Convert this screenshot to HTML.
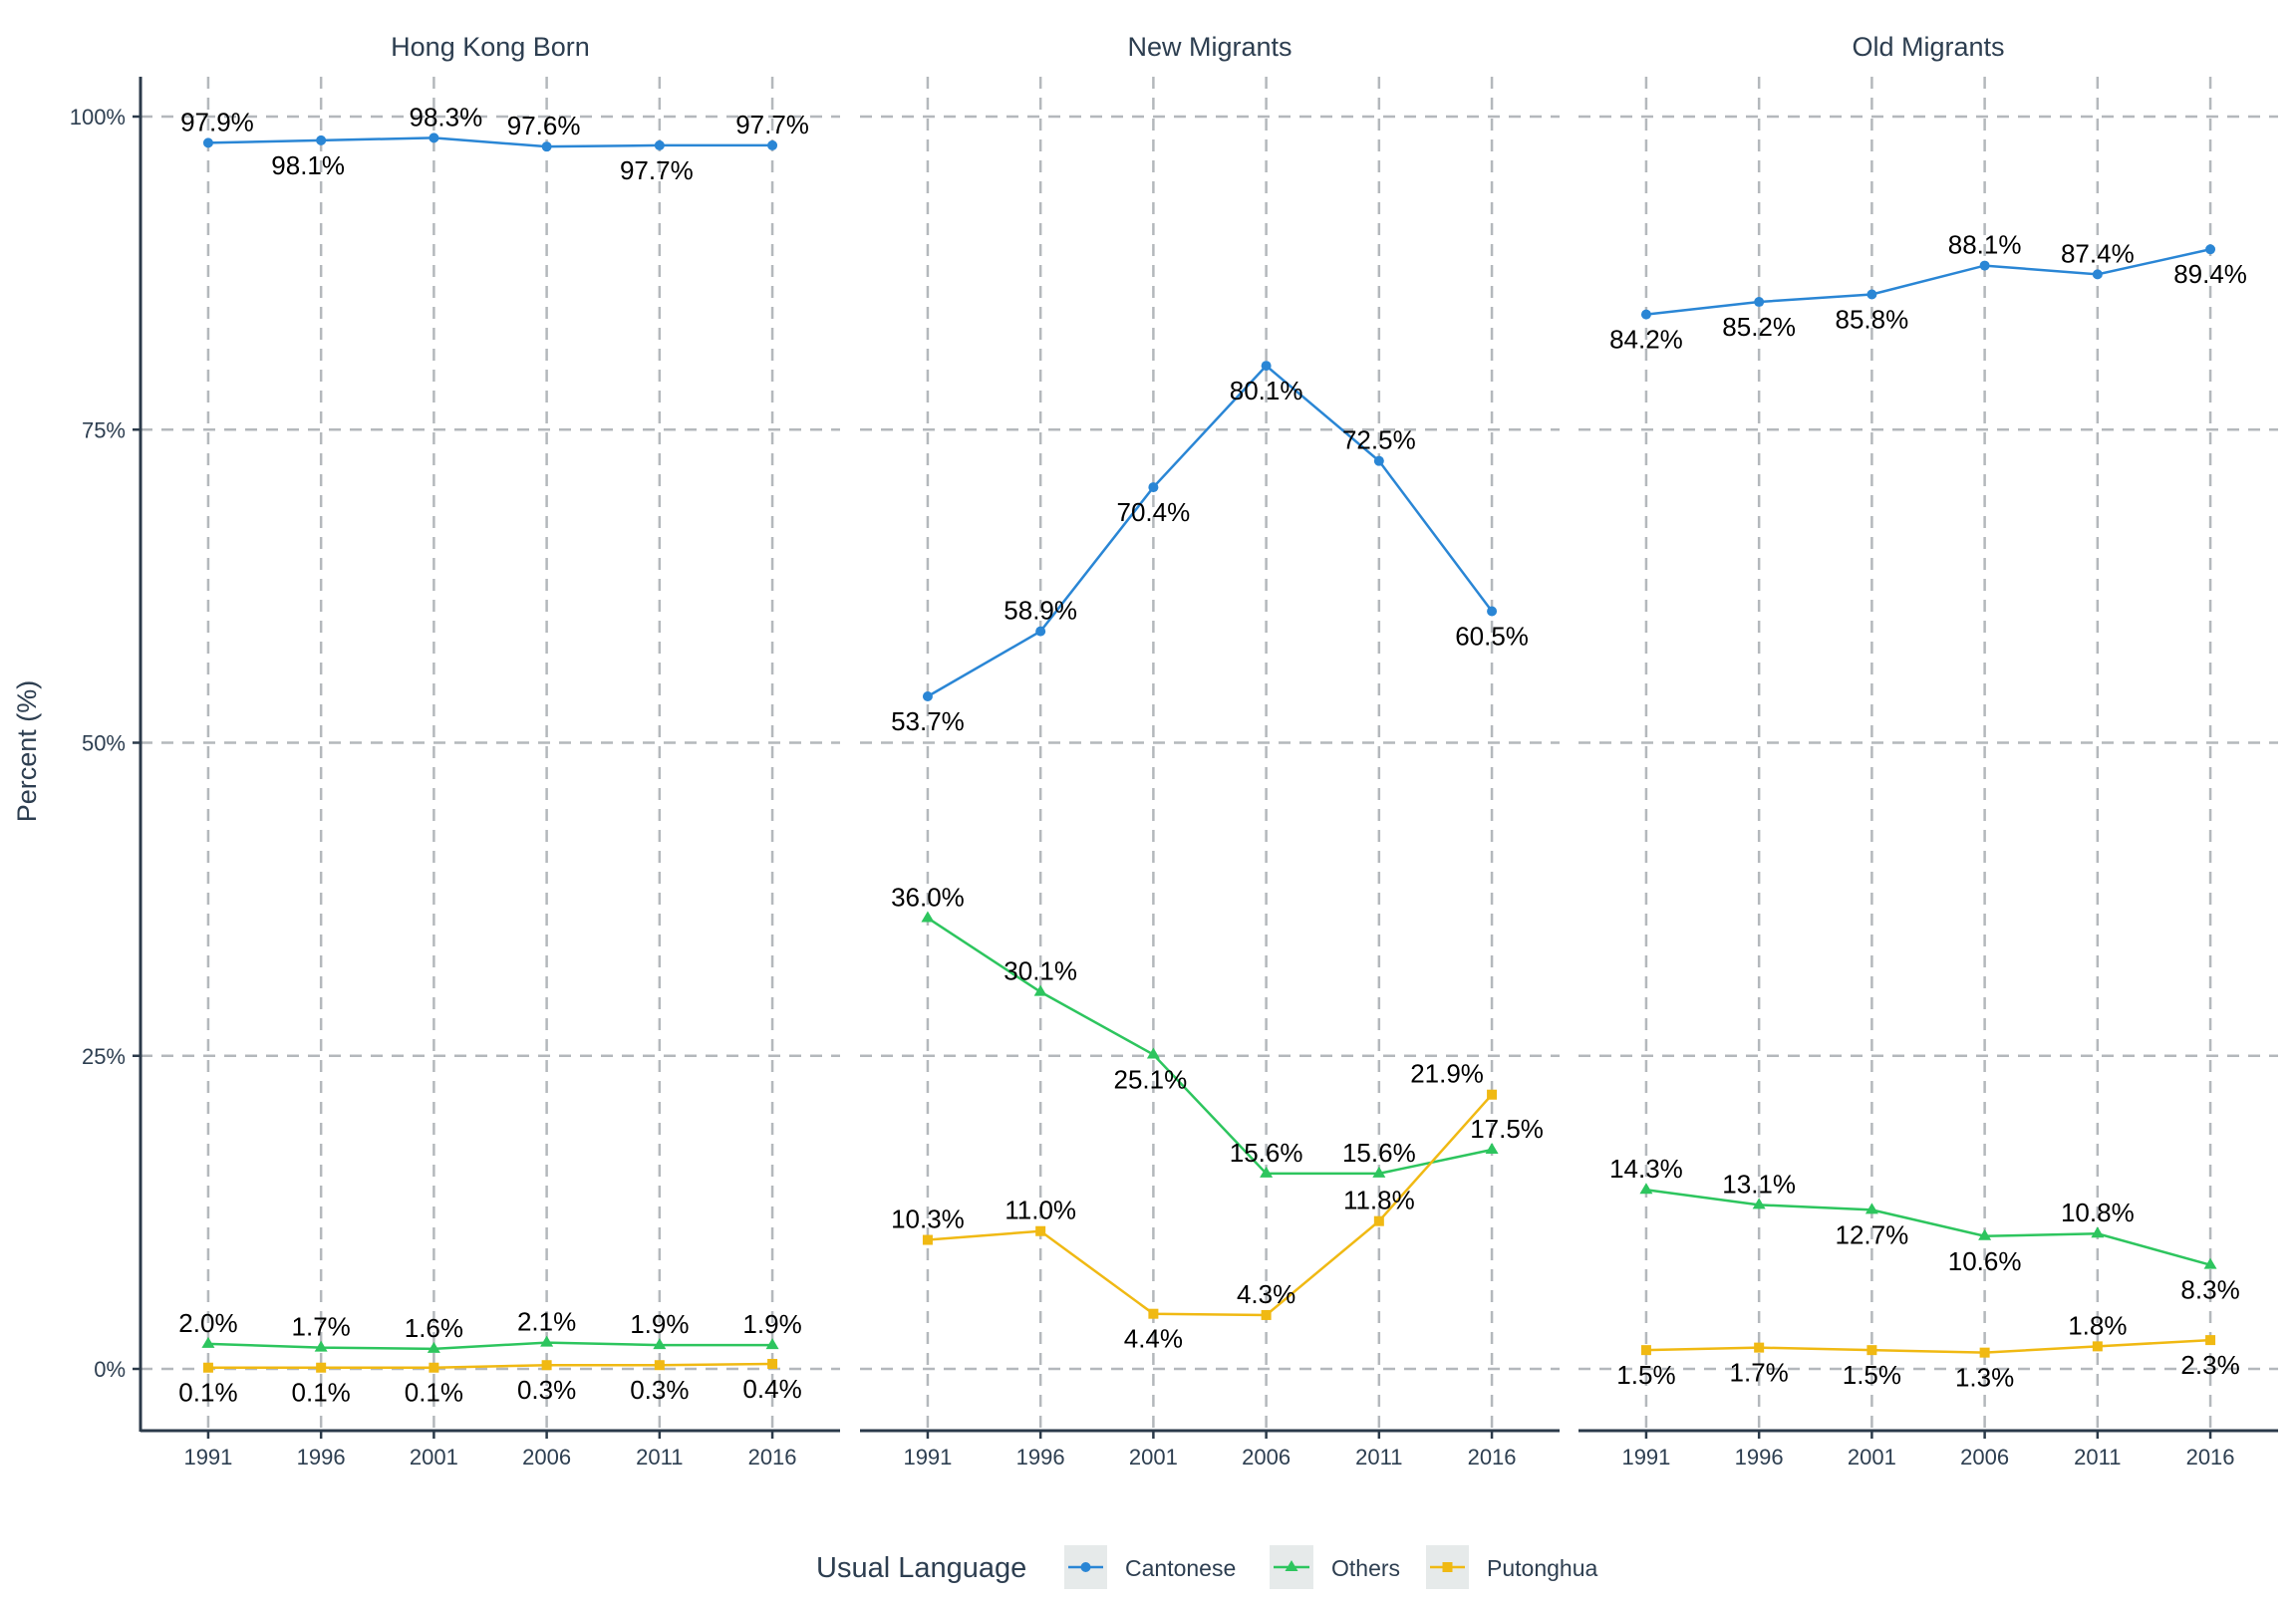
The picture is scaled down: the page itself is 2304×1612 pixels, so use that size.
<!DOCTYPE html>
<html><head><meta charset="utf-8"><style>
html,body{margin:0;padding:0;background:#fff}
svg{display:block;font-family:"Liberation Sans",Arial,sans-serif}
</style></head><body>
<svg id="chart" width="2304" height="1612" viewBox="0 0 2304 1612" xmlns="http://www.w3.org/2000/svg">
<text x="36" y="754" transform="rotate(-90 36 754)" text-anchor="middle" font-size="27" fill="#2d3e50">Percent (%)</text>
<g>
<text x="819" y="1583" font-size="29" fill="#2d3e50">Usual Language</text>
<g>
<rect x="1068" y="1551" width="43" height="44" fill="#e6eaea"/>
<line x1="1072" y1="1573" x2="1107" y2="1573" stroke="#2a86d5" stroke-width="2.5"/>
<circle cx="1089.5" cy="1573" r="5" fill="#2a86d5"/>
<text x="1129" y="1582" font-size="23" fill="#2d3e50">Cantonese</text></g>
<g>
<rect x="1274" y="1551" width="44" height="44" fill="#e6eaea"/>
<line x1="1278" y1="1573" x2="1314" y2="1573" stroke="#2dc55e" stroke-width="2.5"/>
<polygon points="1296,1566 1302.5,1577 1289.5,1577" fill="#2dc55e"/>
<text x="1336" y="1582" font-size="23" fill="#2d3e50">Others</text></g>
<g>
<rect x="1431" y="1551" width="43" height="44" fill="#e6eaea"/>
<line x1="1435" y1="1573" x2="1470" y2="1573" stroke="#f0b913" stroke-width="2.5"/>
<rect x="1447.5" y="1568" width="10" height="10" fill="#f0b913"/>
<text x="1492" y="1582" font-size="23" fill="#2d3e50">Putonghua</text></g>
</g>
</svg>
<script>
const years = ['1991','1996','2001','2006','2011','2016'];
const panels = ['Hong Kong Born','New Migrants','Old Migrants'];
const yTicks = [0,25,50,75,100];
const yTickLabels = ['0%','25%','50%','75%','100%'];
const seriesNames = ['Cantonese','Others','Putonghua'];
const hkCantonese = [97.9,98.1,98.3,97.6,97.7,97.7];
const hkOthers = [2.0,1.7,1.6,2.1,1.9,1.9];
const hkPutonghua = [0.1,0.1,0.1,0.3,0.3,0.4];
const newCantonese = [53.7,58.9,70.4,80.1,72.5,60.5];
const newOthers = [36.0,30.1,25.1,15.6,15.6,17.5];
const newPutonghua = [10.3,11.0,4.4,4.3,11.8,21.9];
const oldCantonese = [84.2,85.2,85.8,88.1,87.4,89.4];
const oldOthers = [14.3,13.1,12.7,10.6,10.8,8.3];
const oldPutonghua = [1.5,1.7,1.5,1.3,1.8,2.3];
// label side: 1 = above, -1 = below
const hkCantoneseSide = [1,-1,1,1,-1,1];
const hkOthersSide = [1,1,1,1,1,1];
const hkPutonghuaSide = [-1,-1,-1,-1,-1,-1];
const newCantoneseSide = [-1,1,-1,-1,1,-1];
const newOthersSide = [1,1,-1,1,1,1];
const newPutonghuaSide = [1,1,-1,1,1,1];
const oldCantoneseSide = [-1,-1,-1,1,1,-1];
const oldOthersSide = [1,1,-1,-1,1,-1];
const oldPutonghuaSide = [-1,-1,-1,-1,1,-1];
// label horizontal nudges (px)
const hkCantoneseNudge = [9,-13,12,-3,-3,0];
const zeroNudge = [0,0,0,0,0,0];
const newOthersNudge = [0,0,-3,0,0,15];
const newPutonghuaNudge = [0,0,0,0,0,-45];

const panelData = [
 [[hkCantonese,hkCantoneseSide,hkCantoneseNudge],[hkOthers,hkOthersSide,zeroNudge],[hkPutonghua,hkPutonghuaSide,zeroNudge]],
 [[newCantonese,newCantoneseSide,zeroNudge],[newOthers,newOthersSide,newOthersNudge],[newPutonghua,newPutonghuaSide,newPutonghuaNudge]],
 [[oldCantonese,oldCantoneseSide,zeroNudge],[oldOthers,oldOthersSide,zeroNudge],[oldPutonghua,oldPutonghuaSide,zeroNudge]]
];
const colors = ['#2a86d5','#2dc55e','#f0b913'];
const NS = 'http://www.w3.org/2000/svg';
const svg = document.getElementById('chart');
const panelLeft = [141,863,1584], panelW = 702, panelTop = 77, axisY = 1436;
function yScale(v){ return 1374 - (v/100)*(1374-117); }
function xScale(p,i){ const step = panelW/6.2; return panelLeft[p] + step*(0.6+i); }
function mk(tag, attrs, parent){ const e=document.createElementNS(NS,tag); for(const k in attrs) e.setAttribute(k,attrs[k]); (parent||svg).appendChild(e); return e; }

panels.forEach((name,p)=>{
  const g = mk('g',{});
  
  
  const t = mk('text',{x:panelLeft[p]+panelW/2, y:56, 'text-anchor':'middle','font-size':27, fill:'#2d3e50'}, g);
  
  
  t.textContent = name;
  const grid = mk('g',{stroke:'#b4b8bc','stroke-width':2.5,'stroke-dasharray':'12 9',fill:'none'}, g);
  
  
  yTicks.forEach(v=>{ mk('line',{x1:panelLeft[p],x2:panelLeft[p]+panelW,y1:yScale(v),y2:yScale(v)},grid); });
  years.forEach((yr,i)=>{ mk('line',{x1:xScale(p,i),x2:xScale(p,i),y1:panelTop,y2:axisY},grid); });
  const xa = mk('line',{x1:panelLeft[p],x2:panelLeft[p]+panelW,y1:axisY,y2:axisY,stroke:'#2b3a4a','stroke-width':3}, g);
  
  
  years.forEach((yr,i)=>{
    mk('line',{x1:xScale(p,i),x2:xScale(p,i),y1:axisY,y2:axisY+8,stroke:'#2b3a4a','stroke-width':2.5},g);
    const tl = mk('text',{x:xScale(p,i),y:axisY+34,'text-anchor':'middle','font-size':22,fill:'#2d3e50'},g);
    
    
    tl.textContent = yr;
  });
  panelData[p].forEach((sd,s)=>{
    const vals = sd[0], sides = sd[1], nudges = sd[2];
    const sg = mk('g',{}, g);
    
    
    const pts = vals.map((v,i)=>xScale(p,i)+','+yScale(v)).join(' ');
    const pl = mk('polyline',{points:pts,fill:'none',stroke:colors[s],'stroke-width':2.5}, sg);
    
    
    vals.forEach((v,i)=>{
      const x = xScale(p,i), y = yScale(v);
      let m;
      if(s===0) m = mk('circle',{cx:x,cy:y,r:5,fill:colors[s]},sg);
      else if(s===1) m = mk('polygon',{points:`${x},${y-7} ${x+6.5},${y+4} ${x-6.5},${y+4}`,fill:colors[s]},sg);
      else m = mk('rect',{x:x-5,y:y-5,width:10,height:10,fill:colors[s]},sg);
      
      
      const ly = sides[i]>0 ? y-12 : y+34;
      const lb = mk('text',{x:x+nudges[i],y:ly,'text-anchor':'middle','font-size':26,fill:'#000'},sg);
      
      
      lb.textContent = v.toFixed(1)+'%';
    });
  });
});
// y axis
const ya = mk('g',{});


mk('line',{x1:141,x2:141,y1:panelTop,y2:axisY+1,stroke:'#2b3a4a','stroke-width':3},ya);
yTicks.forEach((v,i)=>{
  mk('line',{x1:133,x2:141,y1:yScale(v),y2:yScale(v),stroke:'#2b3a4a','stroke-width':2.5},ya);
  const t = mk('text',{x:126,y:yScale(v)+8,'text-anchor':'end','font-size':22,fill:'#2d3e50'},ya);
  
  
  t.textContent = yTickLabels[i];
});
</script>
</body></html>
